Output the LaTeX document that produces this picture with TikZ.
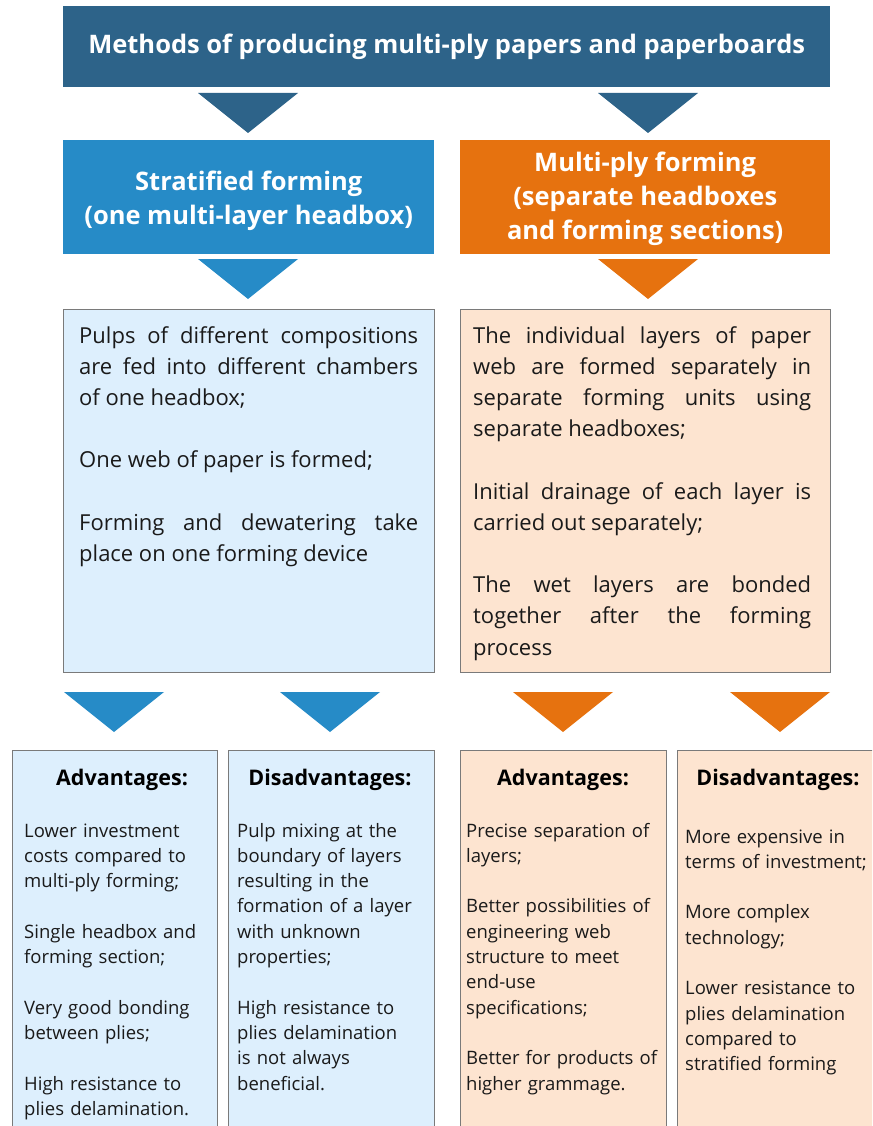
\documentclass[tikz,border=0pt]{standalone}
\usepackage{fontspec}
\setmainfont{Open Sans}
\definecolor{titleblue}{HTML}{2D6389}
\definecolor{midblue}{HTML}{268BC7}
\definecolor{orng}{HTML}{E6720F}
\definecolor{lightblue}{HTML}{DDEFFD}
\definecolor{lightorng}{HTML}{FDE4D0}
\definecolor{boxgray}{HTML}{7A7A7A}
\definecolor{txt}{HTML}{1A1A1A}
\tikzset{
  hdr/.style={fill=#1, draw=none, anchor=north west, inner sep=0pt},
  hdrtext/.style={text=white, inner sep=0pt,
    font=\fontsize{25.5}{34}\selectfont\bfseries, align=center},
  cbox/.style={draw=boxgray, line width=1.1pt, fill=#1, anchor=north west, inner sep=0pt},
  ctext/.style={anchor=base west, inner sep=0pt, text=txt, text width=#1,
    font=\fontsize{22}{31.2}\selectfont, align=justify},
  btext/.style={anchor=base west, inner sep=0pt, text=txt, text width=#1,
    font=\fontsize{18.5}{25.3}\selectfont, align=left},
  bhead/.style={anchor=base, inner sep=0pt, text=black,
    font=\fontsize{21.5}{26}\selectfont\bfseries},
  tri/.style={fill=#1, draw=none}
}
\newcommand{\dtri}[3]{\fill[tri=#1] (#2-50,#3) -- (#2+50,#3) -- (#2,#3+40) -- cycle;}
\begin{document}
\begin{tikzpicture}[x=1pt,y=-1pt]
\useasboundingbox (0,0) rectangle (872,1126);
\clip (0,0) rectangle (872,1126);

% title
\node[hdr=titleblue, minimum width=767pt, minimum height=81pt] (title) at (63,6) {};
\node[hdrtext] (titletxt) at ([yshift=0pt]title.center)
  {Methods of producing multi-ply papers and paperboards};
\dtri{titleblue}{248}{93}
\dtri{titleblue}{648}{93}

% second level
\node[hdr=midblue, minimum width=371pt, minimum height=114pt] (strat) at (63,140) {};
\node[hdrtext] (strattxt) at ([yshift=-4pt]strat.center)
  {Stratified forming\\(one multi-layer headbox)};
\node[hdr=orng, minimum width=370pt, minimum height=114pt] (multi) at (460,140) {};
\node[hdrtext] (multitxt) at ([yshift=-1.5pt]multi.center)
  {Multi-ply forming\\(separate headboxes\\and forming sections)};
\dtri{midblue}{248}{259}
\dtri{orng}{648}{259}

% content boxes
\node[cbox=lightblue, minimum width=371pt, minimum height=363pt] (sbox) at (63,309) {};
\node[cbox=lightorng, minimum width=370pt, minimum height=363pt] (mbox) at (460,309) {};
\node[ctext=339pt] (stxt) at (79,343)
  {Pulps of different compositions\linebreak
   are fed into different chambers\linebreak
   of one headbox;\\[31.2pt]
   One web of paper is formed;\\[31.2pt]
   Forming and dewatering take\linebreak
   place on one forming device};
\node[ctext=338pt] (mtxt) at (473,343)
  {The individual layers of paper\linebreak
   web are formed separately in\linebreak
   separate forming units using\linebreak
   separate headboxes;\\[31.2pt]
   Initial drainage of each layer is\linebreak
   carried out separately;\\[31.2pt]
   The wet layers are bonded\linebreak
   together after the forming\linebreak
   process};

\dtri{midblue}{114}{692}
\dtri{midblue}{330}{692}
\dtri{orng}{563}{692}
\dtri{orng}{780}{692}

% bottom boxes
\node[cbox=lightblue, minimum width=205pt, minimum height=420pt] (sadv) at (12,750) {};
\node[cbox=lightblue, minimum width=206pt, minimum height=420pt] (sdis) at (228,750) {};
\node[cbox=lightorng, minimum width=206pt, minimum height=420pt] (madv) at (460,750) {};
\node[cbox=lightorng, minimum width=206pt, minimum height=420pt] (mdis) at (677,750) {};

\node[bhead] (h1) at (122,785) {Advantages:};
\node[bhead] (h2) at (330,785) {Disadvantages:};
\node[bhead] (h3) at (563,785) {Advantages:};
\node[bhead] (h4) at (778,785) {Disadvantages:};

\node[btext=190pt] (t1) at (24,837)
  {Lower investment\\costs compared to\\multi-ply forming;\\[25.3pt]
   Single headbox and\\forming section;\\[25.3pt]
   Very good bonding\\between plies;\\[25.3pt]
   High resistance to\\plies delamination.};
\node[btext=192pt] (t2) at (237,837)
  {Pulp mixing at the\\boundary of layers\\resulting in the\\formation of a layer\\with unknown\\properties;\\[25.3pt]
   High resistance to\\plies delamination\\is not always\\beneficial.};
\node[btext=198pt] (t3) at (466,837)
  {Precise separation of\\layers;\\[25.3pt]
   Better possibilities of\\engineering web\\structure to meet\\end-use\\specifications;\\[25.3pt]
   Better for products of\\higher grammage.};
\node[btext=190pt] (t4) at (685,843)
  {More expensive in\\terms of investment;\\[25.3pt]
   More complex\\technology;\\[25.3pt]
   Lower resistance to\\plies delamination\\compared to\\stratified forming};
\end{tikzpicture}
\end{document}
